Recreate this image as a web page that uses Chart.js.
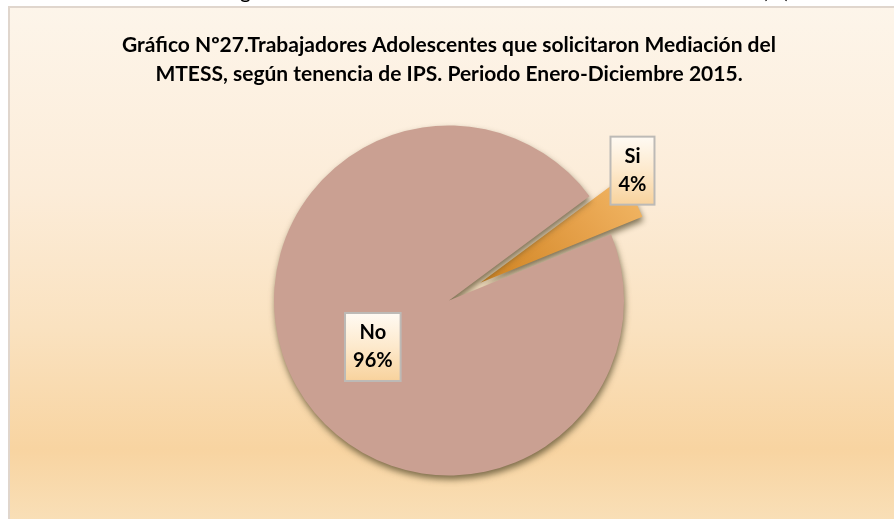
<!DOCTYPE html>
<html>
<head>
<meta charset="utf-8">
<script src="https://cdn.jsdelivr.net/npm/chart.js@4/dist/chart.umd.min.js"></script>
<style>
  html, body { margin: 0; padding: 0; background: #ffffff; overflow: hidden; }
  #wrap { width: 894px; height: 519px; position: relative; }
</style>
</head>
<body>
<div id="wrap"><canvas id="pieChart" width="894" height="519"></canvas></div>
<script>
// chart data
const categories = ['Si', 'No'];
const percentValues = [4, 96];
const titleLines = [
    'Gráfico Nº27.Trabajadores Adolescentes que solicitaron Mediación del',
    'MTESS, según tenencia de IPS. Periodo Enero-Diciembre 2015.'
];

const FONT = 'Lato, "Open Sans", sans-serif';
const EXPLODE = [36, 0];   // how far each slice is pulled out (px)

// frame with the gradient fill + the clipped line of text above it
const framePlugin = {
    id: 'frame',
    beforeDraw(chart) {
        const ctx = chart.ctx;
        ctx.save();
        ctx.fillStyle = '#000';
        ctx.font = '21px ' + FONT;
        ctx.textBaseline = 'alphabetic';
        ctx.fillText('g', 240, -2);
        ctx.fillText('(%)', 762, -2);

        const top = 7, left = 9;
        const grad = ctx.createLinearGradient(0, top, 0, 540);
        grad.addColorStop(0, '#fdf5ea');
        grad.addColorStop(0.35, '#fcecd8');
        grad.addColorStop(0.6, '#fae2c0');
        grad.addColorStop(0.83, '#f8d4a1');
        grad.addColorStop(1, '#f9e2bd');
        ctx.fillStyle = grad;
        ctx.fillRect(left, top, 900, 540);
        ctx.strokeStyle = '#e0d6cd';
        ctx.lineWidth = 2;
        ctx.strokeRect(left, top, 900, 540);
        ctx.restore();
    }
};

// draws the slices ourselves so the small one can be pulled out, with shadow + gradient
const slicePlugin = {
    id: 'sliceLook',
    beforeDatasetDraw(chart, args) {
        const ctx = chart.ctx;
        const meta = args.meta;
        meta.data.forEach((arc, i) => {
            const mid = (arc.startAngle + arc.endAngle) / 2;
            const dx = Math.cos(mid) * EXPLODE[i];
            const dy = Math.sin(mid) * EXPLODE[i];
            if (i === 0) {
                const g = ctx.createLinearGradient(arc.x, arc.y,
                    arc.x + Math.cos(mid) * arc.outerRadius, arc.y + Math.sin(mid) * arc.outerRadius - 40);
                g.addColorStop(0, '#cf8320');
                g.addColorStop(0.6, '#e7a34d');
                g.addColorStop(1, '#f4bb6a');
                arc.options.backgroundColor = g;
            }
            ctx.save();
            ctx.translate(dx, dy);
            ctx.shadowColor = 'rgba(85, 75, 45, 0.75)';
            ctx.shadowBlur = 6;
            ctx.shadowOffsetX = 1;
            ctx.shadowOffsetY = 4;
            arc.draw(ctx, chart.chartArea);
            ctx.restore();
        });
        return false;
    }
};

// boxed data labels (category + percent)
const labelPlacement = [
    { dist: 1.08, turn: -7 },
    { dist: 0.51, turn: -2 }
];
const labelPlugin = {
    id: 'boxLabels',
    afterDatasetsDraw(chart) {
        const ctx = chart.ctx;
        const meta = chart.getDatasetMeta(0);
        ctx.save();
        ctx.font = 'bold 20px ' + FONT;
        ctx.textAlign = 'center';
        ctx.textBaseline = 'middle';
        meta.data.forEach((arc, i) => {
            const p = labelPlacement[i];
            const mid = (arc.startAngle + arc.endAngle) / 2;
            const ang = mid + p.turn * Math.PI / 180;
            const cx = arc.x + Math.cos(mid) * EXPLODE[i] + Math.cos(ang) * arc.outerRadius * p.dist;
            const cy = arc.y + Math.sin(mid) * EXPLODE[i] + Math.sin(ang) * arc.outerRadius * p.dist;
            const lines = [categories[i], percentValues[i] + '%'];
            const w = Math.max(...lines.map(t => ctx.measureText(t).width)) + 16;
            const lh = 28;
            const h = lh * 2 + 12;
            const x0 = cx - w / 2, y0 = cy - h / 2;
            const bg = ctx.createLinearGradient(0, y0, 0, y0 + h);
            bg.addColorStop(0, '#fffaf3');
            bg.addColorStop(0.5, '#fde9cc');
            bg.addColorStop(1, '#f8d29c');
            ctx.fillStyle = bg;
            ctx.fillRect(x0, y0, w, h);
            ctx.strokeStyle = '#bdbab6';
            ctx.lineWidth = 2;
            ctx.strokeRect(x0, y0, w, h);
            ctx.fillStyle = '#000';
            ctx.fillText(lines[0], cx, cy - lh / 2);
            ctx.fillText(lines[1], cx, cy + lh / 2);
        });
        ctx.restore();
    }
};

const ctx = document.getElementById('pieChart').getContext('2d');
const chart = new Chart(ctx, {
    type: 'pie',
    data: {
        labels: categories,
        datasets: [{
            data: percentValues,
            backgroundColor: ['#e7a34d', '#caa092'],
            borderWidth: 0,
            hoverOffset: 0
        }]
    },
    options: {
        responsive: false,
        animation: false,
        events: [],
        rotation: 53.4,
        radius: 175,
        layout: {
            padding: { left: 4, right: 0, top: 0, bottom: 12 }
        },
        plugins: {
            legend: { display: false },
            tooltip: { enabled: false },
            title: {
                display: true,
                text: titleLines,
                color: '#000',
                font: { family: FONT, size: 21, weight: 'bold', lineHeight: 1.38 },
                padding: { top: 31, bottom: 5 }
            }
        }
    },
    plugins: [framePlugin, slicePlugin, labelPlugin]
});
</script>
</body>
</html>
